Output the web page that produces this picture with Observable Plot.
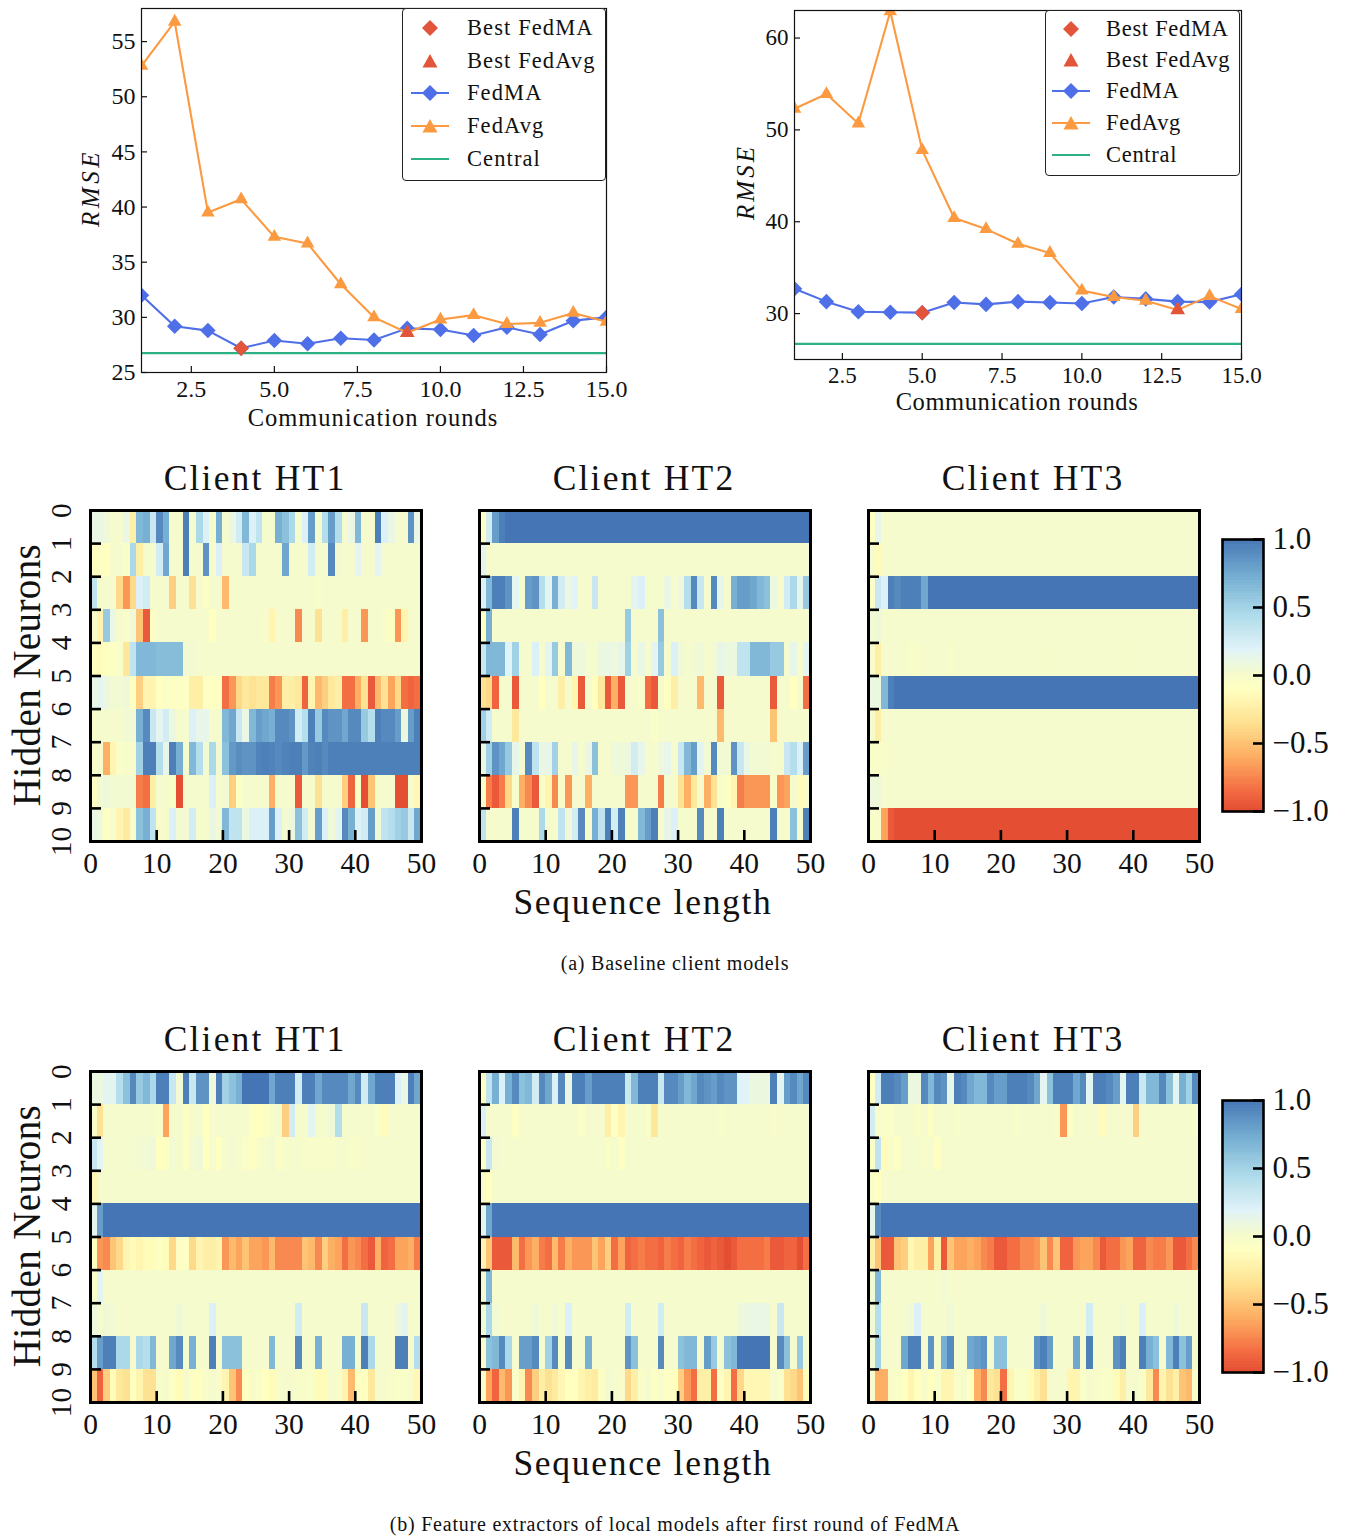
<!DOCTYPE html>
<html><head><meta charset="utf-8">
<script src="https://cdn.jsdelivr.net/npm/d3@7"></script>
<script src="https://cdn.jsdelivr.net/npm/@observablehq/plot@0.6"></script>
<style>
html,body{margin:0;padding:0;background:#fff}
#page{position:relative;width:1354px;height:1536px;overflow:hidden;font-family:"Liberation Serif",serif;color:#111}
#page svg{position:absolute;overflow:visible}
.t{position:absolute;white-space:nowrap;transform:translate(-50%,-50%)}
.r{transform:translate(-50%,-50%) rotate(-90deg)}
.legend{position:absolute;box-sizing:border-box;border:1.3px solid #222;border-radius:4px;background:#fff}
.legend .lab{position:absolute;white-space:nowrap;transform:translateY(-50%);font-size:22.5px}
</style></head><body><div id="page"></div>
<script>
// ---- line chart values
const rounds = [1,2,3,4,5,6,7,8,9,10,11,12,13,14,15];
const fedAvgA = [52.8,56.8,39.5,40.7,37.3,36.7,33,30,28.6,29.8,30.2,29.4,29.5,30.4,29.6];
const fedMaA = [32,29.2,28.8,27.2,27.9,27.6,28.1,27.95,29,28.9,28.35,29.1,28.45,29.7,30];
const centralA = 26.75;
const bestMaA = [4,27.2], bestAvgA = [9,28.6];
const fedAvgB = [52.3,53.9,50.7,62.9,47.8,40.4,39.2,37.6,36.6,32.5,31.8,31.4,30.4,31.9,30.5];
const fedMaB = [32.7,31.3,30.2,30.15,30.1,31.2,31,31.3,31.2,31.1,31.8,31.6,31.3,31.25,32.1];
const centralB = 26.7;
const bestMaB = [5,30.1], bestAvgB = [13,30.4];
const legendLabels = ["Best FedMA","Best FedAvg","FedMA","FedAvg","Central"];
const xTicks = [2.5,5,7.5,10,12.5,15];
const yTicksA = [25,30,35,40,45,50,55];
const yTicksB = [30,40,50,60];
const seqTicks = [0,10,20,30,40,50];
const neuronTicks = [0,1,2,3,4,5,6,7,8,9,10];
const cbTicks = [-1,-0.5,0,0.5,1];

// ---- heat map values (rows = hidden neurons, columns = sequence length)
const baseHT1 = [
[.1,.1,.05,0,0,.1,-.25,.65,.7,.3, .9,.7,0,0,.95,0,.45,.2,0,.7, 0,.1,.25,.65,.2,.35,0,0,.7,.6, .45,0,.2,.8,0,.4,.8,.4,0,.1, .65,0,0,.95,.2,.1,0,0,.85,.1],
[-.1,-.1,-.12,0,0,-.05,.45,-.25,0,0, .25,.75,0,0,.95,0,0,.85,0,.2, 0,0,0,.3,.45,0,0,0,0,.75, 0,0,0,.25,0,0,.9,.02,0,0, .15,0,0,.15,0,0,0,0,0,0],
[.35,0,0,0,-.4,-.7,-.4,.2,.25,0, 0,0,-.45,0,0,-.35,0,-.08,0,0, -.55,0,0,0,0,0,0,0,0,0, 0,0,0,0,-.03,0,0,0,0,0, 0,0,0,0,0,0,0,0,0,0],
[-.02,-.2,.55,.1,0,-.02,.05,-.5,-.95,-.08, 0,0,0,0,0,0,0,0,-.12,0, 0,0,0,0,0,0,-.02,-.2,0,0, 0,-.75,0,0,-.35,0,0,0,-.25,0, 0,-.7,0,0,-.03,-.1,-.7,-.2,0,0],
[-.12,-.15,-.1,-.1,-.05,-.3,.35,.65,.65,.65, .62,.62,.62,.62,.02,.02,0,0,0,0, 0,0,0,0,0,0,0,0,0,0, 0,0,0,0,0,0,0,0,0,0, 0,0,0,0,0,0,0,0,0,0],
[.1,.15,.08,.03,.03,.05,-.1,-.45,-.2,-.2, -.12,-.05,-.1,-.08,-.08,-.25,-.25,-.08,-.12,-.08, -.85,-.7,-.4,-.3,-.35,-.3,-.3,-.8,-.7,-.25, -.25,-.3,-.9,-.2,-.55,-.45,-.3,-.25,-.85,-.85, -.6,-.35,-.95,-.55,-.35,-.65,-.4,-.85,-.9,-.85],
[-.02,0,0,0,0,.03,.03,.7,.9,.3, .15,.25,.08,0,0,.2,.12,.12,0,0, .65,.75,.3,.1,.65,.8,.75,.7,.9,.9, .85,.25,.4,.95,.55,.9,.85,.85,.75,.9, .9,.55,.4,.95,.9,.9,.8,.08,.8,.95],
[-.02,0,-.6,-.2,-.05,-.02,-.02,.5,.95,.95, .4,.12,.95,.7,0,.65,.4,.02,.45,.02, .6,.82,.88,.85,.85,.93,.95,.93,.9,.93, .95,.95,.82,.93,.95,.9,.95,.95,.95,.95, .95,.95,.95,.95,.95,.95,.95,.95,.95,.95],
[-.1,.03,.06,.03,.02,.03,.02,-.8,-.85,-.25, 0,0,-.05,-1,0,0,0,0,.2,0, .02,-.45,-.1,0,0,0,0,-.6,0,0, 0,-.95,0,0,-.35,0,0,0,-.45,-.9, -.05,-1,-.5,0,0,0,-1,-1,0,-.18],
[.1,.05,-.1,-.02,-.2,-.28,-.02,.6,.7,.35, -.02,0,.2,.03,.02,.25,0,0,.1,.03, .65,.35,.35,.08,.2,.2,.2,.8,.2,.02, .08,.6,.25,.03,.8,.2,.05,.15,.9,.7, .2,.25,.8,.05,.35,.4,.5,.55,.3,.75]];
const baseHT2 = [
[-.1,.25,.8,.95,1,1,1,1,1,1, 1,1,1,1,1,1,1,1,1,1, 1,1,1,1,1,1,1,1,1,1, 1,1,1,1,1,1,1,1,1,1, 1,1,1,1,1,1,1,1,1,1],
[.15,0,0,0,0,0,0,0,0,0, 0,0,0,0,0,0,0,0,0,0, 0,0,0,0,0,0,0,0,0,0, 0,0,0,0,0,0,0,0,0,0, 0,0,0,0,0,0,0,0,0,0],
[.2,.65,.95,.95,.85,.15,0,.8,.85,.4, .15,.7,.25,.08,.18,0,0,.3,0,0, 0,0,0,.15,.2,0,0,0,.1,0, .07,.4,.9,.3,0,.9,.12,0,.7,.8, .8,.75,.65,.6,.08,0,.25,.45,.12,.55],
[-.08,.7,0,0,0,0,0,0,0,0, 0,0,0,0,0,0,0,0,0,0, 0,0,.55,0,0,0,0,.6,0,0, 0,0,0,0,0,0,0,0,0,0, 0,0,0,0,0,0,0,0,0,0],
[.3,.65,.65,.65,.18,.5,0,0,.2,0, .15,.55,0,.65,.05,.07,.01,.01,.08,.1, .07,.12,.5,0,.1,0,.15,.55,0,.2, .05,0,.03,.05,0,.03,.12,.08,.08,.35, .35,.65,.65,.65,.55,.55,0,.12,0,.15],
[-.35,-.4,-.9,0,0,-.95,0,0,0,-.12, 0,0,-.25,0,-.2,-.95,0,-.12,-.3,-.95, -.6,-.95,0,0,-.05,-.85,-.95,0,-.12,-.25, 0,0,0,-.55,0,0,-.95,0,0,0, 0,0,0,0,-.95,0,0,-.12,0,-.85],
[.5,.25,0,0,0,-.3,0,0,0,0, 0,0,0,0,0,0,0,0,0,0, 0,0,0,0,0,0,-.05,0,0,0, 0,0,0,0,0,0,-.55,0,0,0, 0,0,0,0,-.5,0,0,0,0,0],
[.1,.5,.85,.75,.55,.12,.02,.9,.35,.09, .12,.5,0,0,.12,0,.1,.6,0,0, .06,.05,.08,.25,.12,0,0,.07,.12,0, .3,.65,.8,.15,.03,.9,.03,.03,.85,.3, .1,.03,.03,.03,0,0,.3,.4,.2,.8],
[-.03,-.8,-.95,-.8,-.4,-.02,-.6,-.75,-.95,-.05, -.2,-.75,-.03,-.7,0,0,-.6,0,0,0, 0,0,-.7,-.7,0,0,0,-.8,0,0, -.35,-.6,-.3,0,-.6,-.35,-.03,-.08,-.2,-.8, -.7,-.7,-.7,-.7,-.02,-.7,-.65,0,-.15,-.02],
[.35,0,0,0,0,.95,0,0,0,.45, 0,0,.35,.05,.25,.9,0,.7,.35,.95, .25,.95,0,0,.65,.8,.95,0,.12,.2, 0,0,0,.9,0,0,.95,0,0,0, 0,0,0,0,.95,0,0,.6,0,.95]];
const baseHT3 = [
[-.1,.12,0,0,0,0,0,0,0,0, 0,0,0,0,0,0,0,0,0,0, 0,0,0,0,0,0,0,0,0,0, 0,0,0,0,0,0,0,0,0,0, 0,0,0,0,0,0,0,0,0,0],
[0,-.15,0,0,0,0,0,0,0,0, 0,0,0,0,0,0,0,0,0,0, 0,0,0,0,0,0,0,0,0,0, 0,0,0,0,0,0,0,0,0,0, 0,0,0,0,0,0,0,0,0,0],
[-.05,.3,.2,.95,.9,.95,.95,.95,.75,1, 1,1,1,1,1,1,1,1,1,1, 1,1,1,1,1,1,1,1,1,1, 1,1,1,1,1,1,1,1,1,1, 1,1,1,1,1,1,1,1,1,1],
[.03,.05,0,0,0,0,0,0,0,0, 0,0,0,0,0,0,0,0,0,0, 0,0,0,0,0,0,0,0,0,0, 0,0,0,0,0,0,0,0,0,0, 0,0,0,0,0,0,0,0,0,0],
[-.02,-.25,0,0,0,0,-.03,-.03,0,0, 0,0,-.03,0,0,0,0,0,0,0, 0,0,0,0,0,0,-.01,0,0,0, 0,0,0,0,0,0,0,0,-.01,-.01, 0,0,0,0,0,0,0,0,0,0],
[.08,.08,.65,.95,1,1,1,1,1,1, 1,1,1,1,1,1,1,1,1,1, 1,1,1,1,1,1,1,1,1,1, 1,1,1,1,1,1,1,1,1,1, 1,1,1,1,1,1,1,1,1,1],
[0,-.25,0,0,0,0,0,0,0,0, 0,0,0,0,0,0,0,0,0,0, 0,0,0,0,0,0,0,0,0,0, 0,0,0,0,0,0,0,0,0,0, 0,0,0,0,0,0,0,0,0,0],
[-.05,-.05,-.03,0,0,0,0,0,0,0, 0,0,0,0,0,0,0,0,0,0, 0,0,0,0,0,0,0,0,0,0, 0,0,0,0,0,0,0,0,0,0, 0,0,0,0,0,0,0,0,0,0],
[.07,.05,0,0,0,0,0,0,0,0, 0,0,0,0,0,0,0,0,0,0, 0,0,0,0,0,0,0,0,0,0, 0,0,0,0,0,0,0,0,0,0, 0,0,0,0,0,0,0,0,0,0],
[-.03,-.03,-.65,-.95,-1,-1,-1,-1,-1,-1, -1,-1,-1,-1,-1,-1,-1,-1,-1,-1, -1,-1,-1,-1,-1,-1,-1,-1,-1,-1, -1,-1,-1,-1,-1,-1,-1,-1,-1,-1, -1,-1,-1,-1,-1,-1,-1,-1,-1,-1]];
const featHT1 = [
[.08,.08,.15,.15,.4,.6,.9,.55,.65,.45, .95,.95,.3,.03,.95,.3,.85,.85,.07,.95, .5,.6,.7,1,1,1,1,.75,.95,.95, .95,.25,.95,.95,.75,.9,.9,.9,.9,.75, .9,.25,.75,.95,.95,.95,.2,.1,.95,.75],
[-.03,-.35,0,0,0,0,0,0,0,0, -.03,-.65,0,0,-.1,0,0,-.12,0,0, 0,0,0,0,-.08,-.12,-.1,-.02,-.01,-.45, .25,0,0,.15,0,0,.05,.4,0,0, 0,0,0,-.05,-.15,0,0,0,0,0],
[.3,.15,0,0,0,0,.01,.02,.03,.05, -.12,-.08,.03,-.01,-.08,.02,.04,-.12,0,-.12, 0,.02,0,-.06,-.08,-.04,0,.02,-.06,-.02, 0,0,-.04,-.02,-.02,-.04,-.04,0,0,-.03, -.04,0,0,0,0,0,0,0,0,0],
[-.18,0,0,0,0,0,0,0,0,0, 0,0,0,0,0,0,0,0,0,0, 0,0,0,0,0,0,0,0,0,0, 0,0,0,0,0,0,0,0,0,0, 0,0,0,0,0,0,0,0,0,0],
[.15,.8,1,1,1,1,1,1,1,1, 1,1,1,1,1,1,1,1,1,1, 1,1,1,1,1,1,1,1,1,1, 1,1,1,1,1,1,1,1,1,1, 1,1,1,1,1,1,1,1,1,1],
[-.1,-.7,-.75,-.5,-.4,-.2,-.15,-.2,-.15,-.15, -.1,-.15,-.4,-.08,-.08,-.4,-.2,-.25,-.25,-.2, -.7,-.55,-.65,-.5,-.65,-.65,-.7,-.55,-.75,-.75, -.75,-.75,-.5,-.55,-.75,-.45,-.6,-.65,-.85,-.7, -.75,-.85,-.95,-.6,-.9,-.85,-.65,-.65,-.6,-.8],
[-.05,.15,0,0,0,0,0,0,0,0, 0,0,0,0,0,0,0,0,0,0, 0,0,0,0,0,0,0,0,0,0, 0,0,0,0,0,0,0,0,0,0, 0,0,0,0,0,0,0,0,0,0],
[.07,.01,.04,.03,0,0,0,0,0,0, 0,0,0,.04,0,0,0,0,.2,0, 0,0,0,0,0,0,0,0,0,0, 0,.25,0,0,0,0,0,0,0,0, 0,.3,0,0,0,0,.08,.15,0,0],
[.4,.8,.95,.95,.45,.45,0,.45,.4,.65, 0,0,.75,.9,0,.7,0,0,.95,0, .6,.6,.6,0,0,0,0,.65,0,0, 0,.9,0,0,.7,0,0,0,.7,.7, 0,.95,.45,0,0,0,.95,.95,0,.4],
[-.5,-.9,-.45,-.15,-.3,-.35,-.12,-.2,-.35,-.35, -.03,0,-.1,-.15,0,-.1,-.1,-.02,0,-.02, -.2,-.5,-.75,-.12,-.03,-.05,-.12,-.15,-.02,0, 0,-.03,-.03,-.05,-.15,-.15,0,-.03,-.2,-.55, -.1,-.12,-.3,0,0,-.03,-.05,-.05,-.02,-.18]];
const featHT2 = [
[-.08,.35,.7,.2,.7,.9,.6,.65,.25,.9, .75,.2,.9,.1,.95,.95,.8,.95,.95,.95, .95,.95,.3,.65,.95,.95,.95,.3,.9,.9, .8,.65,.75,.9,.85,.8,.9,.85,.85,.18, .18,.08,.08,.08,.95,.15,.8,.9,.75,.9],
[.2,0,0,0,0,-.1,0,0,0,0, 0,0,0,0,0,-.05,0,0,0,-.25, -.08,-.2,0,0,0,-.05,-.3,0,0,0, 0,0,0,0,0,0,-.04,0,0,0, 0,0,0,0,-.02,0,0,0,0,0],
[-.08,.3,.02,0,0,0,0,0,0,0, 0,0,0,0,0,0,0,0,0,-.06, .01,-.08,0,0,0,0,0,0,0,0, 0,0,0,0,0,0,0,0,0,0, 0,0,0,0,0,0,0,0,0,0],
[-.02,-.12,0,0,0,0,0,0,0,0, 0,0,0,0,0,0,0,0,0,0, 0,0,0,0,0,0,0,0,0,0, 0,0,0,0,0,0,0,0,0,0, 0,0,0,0,0,0,0,0,0,0],
[.15,.75,1,1,1,1,1,1,1,1, 1,1,1,1,1,1,1,1,1,1, 1,1,1,1,1,1,1,1,1,1, 1,1,1,1,1,1,1,1,1,1, 1,1,1,1,1,1,1,1,1,1],
[-.2,-.5,-.95,-.95,-.95,-.55,-.85,-.7,-.6,-.8, -.85,-.55,-.8,-.6,-.7,-.7,-.7,-.5,-.65,-.45, -.85,-.65,-.9,-.85,-.8,-.85,-.85,-.9,-.8,-.85, -.9,-.8,-.85,-.9,-.95,-.9,-.95,-1,-.95,-.85, -.85,-.85,-.85,-.8,-.95,-.95,-.9,-.9,-1,-.85],
[.03,.65,0,0,0,0,0,0,0,0, 0,0,0,0,0,0,0,0,0,0, 0,0,0,0,0,0,0,0,0,0, 0,0,0,0,0,0,0,0,0,0, 0,0,0,0,0,0,0,0,0,0],
[.03,.45,.03,0,0,0,0,0,.04,0, 0,.04,0,.2,0,0,0,0,0,0, 0,0,.25,0,0,0,0,.25,0,0, 0,0,0,0,0,0,0,0,0,.06, .08,.1,.1,.1,0,.3,0,0,0,0],
[-.02,.6,.65,.9,.45,0,.8,.8,.9,0, .5,.9,0,.9,0,0,.7,0,0,0, 0,0,.85,.6,0,0,0,.9,0,0, .6,.65,.65,0,.8,.55,0,.6,.65,1, 1,1,1,1,0,.9,.6,0,.55,0],
[-.03,-.65,-.9,-.55,-.7,-.05,-.2,-.75,-.45,-.25, -.35,-.28,-.18,-.12,-.12,-.2,-.25,-.28,-.07,.02, 0,-.02,-.4,-.25,-.05,0,-.08,-.02,-.08,-.12, -.45,-.7,-.85,-.25,-.25,-.85,-.08,-.2,-.85,-.4, -.18,-.18,-.18,-.18,0,-.05,-.35,-.4,-.5,-.15]];
const featHT3 = [
[-.08,.25,.95,.95,.9,.8,.08,.08,.9,.65, .9,.85,.12,.95,.9,.75,.65,.65,.9,.8, .8,.95,.95,.95,.9,.75,.15,.6,.95,.95, .95,.75,.9,.15,.95,.95,.9,.8,.15,.95, .95,.3,.65,.65,.9,.6,.15,.7,.5,.9],
[.25,-.02,-.05,-.05,0,0,0,-.03,0,-.1, 0,0,0,-.04,0,0,0,0,0,0, 0,0,-.03,0,0,0,0,0,-.03,-.7, -.08,0,0,0,0,-.15,0,0,0,0, -.45,0,0,0,0,0,0,0,0,-.02],
[-.05,.35,-.15,-.03,-.08,0,.01,0,-.03,0, -.1,0,0,0,0,0,0,0,0,0, 0,0,0,0,0,0,0,0,0,0, 0,0,0,0,0,0,0,0,0,0, 0,0,0,0,0,0,0,0,0,0],
[-.05,-.12,0,0,0,0,0,0,0,0, 0,0,0,0,0,0,0,0,0,0, 0,0,0,0,0,0,0,0,0,0, 0,0,0,0,0,0,0,0,0,0, 0,0,0,0,0,0,0,0,0,0],
[.12,.9,1,1,1,1,1,1,1,1, 1,1,1,1,1,1,1,1,1,1, 1,1,1,1,1,1,1,1,1,1, 1,1,1,1,1,1,1,1,1,1, 1,1,1,1,1,1,1,1,1,1],
[-.25,-.5,-.95,-.95,-.5,-.45,-.18,-.25,-.25,-.65, -.25,-.95,-.5,-.65,-.65,-.6,-.65,-.75,-.8,-.95, -.95,-.85,-.85,-.75,-.75,-.7,-.5,-.75,-.5,-.9, -.9,-.7,-.65,-.65,-.75,-.95,-.85,-.85,-.7,-.65, -.9,-.9,-.75,-.8,-.8,-.7,-.95,-.95,-.85,-.75],
[.03,.65,0,0,0,0,0,0,0,0, 0,.03,0,0,0,0,0,0,0,0, 0,0,0,0,0,0,0,0,0,0, 0,0,0,0,0,0,0,0,0,0, 0,0,0,0,0,0,0,0,0,0],
[.03,.4,0,0,0,0,.05,.2,0,0, 0,0,.04,0,0,0,0,0,0,0, 0,0,0,0,0,0,.05,0,0,0, 0,0,0,.25,0,0,0,0,.03,0, 0,.2,0,0,0,0,.06,0,0,0],
[.03,.5,0,0,0,.75,.95,.95,0,.85, 0,.7,.9,0,0,.75,.8,.85,0,.6, .6,0,0,0,0,.85,.95,.8,0,0, 0,.75,0,.95,0,0,0,.85,.95,0, 0,.95,.7,.6,0,.65,.95,.6,.8,0],
[-.02,-.6,-.6,-.03,-.05,-.12,-.2,-.12,-.02,-.12, -.05,-.2,-.2,-.05,0,-.12,-.6,-.75,-.3,-.35, -.85,-.2,-.05,-.05,-.15,-.25,-.35,0,0,0, -.2,-.2,-.05,0,-.03,-.05,-.05,-.15,-.25,0, 0,-.05,-.3,-.75,-.2,-.35,-.25,-.5,-.55,-.02]];

// ---- colour scale
const cmapDomain = [-1,-.855,-.61,-.365,-.12,0,.18,.45,.72,1];
const cmapRange = ["#e44f33","#f46d43","#fdae61","#fee090","#ffffbf","#f5fbcc","#e0f3f8","#abd9e9","#74add1","#4575b4"];
const colorScale = {type:"linear",domain:cmapDomain,range:cmapRange,clamp:true};
const cbLevels = d3.range(-1,1,0.02);

const SERIF = '"Liberation Serif",serif';
const page = document.getElementById("page");
const fmtMinus = d => d.toFixed(1).replace("-","\u2212");
function place(svg,left,top){
  const el = svg.tagName.toLowerCase()==="svg" ? svg : svg.querySelector("svg");
  el.style.left=left+"px"; el.style.top=top+"px";
  el.style.background="transparent";
  page.appendChild(el);
}
function text(s,x,y,size,extra={}){
  const d=document.createElement("div");
  d.className="t"+(extra.rot?" r":"");
  d.textContent=s; d.style.left=x+"px"; d.style.top=y+"px"; d.style.fontSize=size+"px";
  if(extra.italic) d.style.fontStyle="italic";
  if(extra.spacing) d.style.letterSpacing=extra.spacing+"px";
  page.appendChild(d);
}

// ---- line panels
const BLUE="#4f6fe8", ORANGE="#fb9a40", GREEN="#2eb085", RED="#e2553a";
function lineChart({left,top,w,h,domainY,ticksY,avg,ma,central,bestMa,bestAvg,tickFont}){
  const mL=45,mR=30,mT=5,mB=32;
  const rows=rounds.map((r,i)=>({r,avg:avg[i],ma:ma[i]}));
  const p=Plot.plot({width:w+mL+mR,height:h+mT+mB,marginLeft:mL,marginRight:mR,marginTop:mT,marginBottom:mB,
    style:{fontFamily:SERIF,color:"#111",background:"transparent",overflow:"visible"},
    x:{domain:[1,15]},y:{domain:domainY},
    marks:[
      Plot.ruleY([central],{stroke:GREEN,strokeWidth:2.2}),
      Plot.line(rows,{x:"r",y:"ma",stroke:BLUE,strokeWidth:2.1,clip:true}),
      Plot.dot(rows,{x:"r",y:"ma",fill:BLUE,symbol:"diamond2",r:7,clip:true}),
      Plot.line(rows,{x:"r",y:"avg",stroke:ORANGE,strokeWidth:2.1,clip:true}),
      Plot.dot(rows,{x:"r",y:"avg",fill:ORANGE,symbol:"triangle2",r:6.5,clip:true}),
      Plot.dot([bestMa],{x:d=>d[0],y:d=>d[1],fill:RED,symbol:"diamond2",r:7}),
      Plot.dot([bestAvg],{x:d=>d[0],y:d=>d[1],fill:RED,symbol:"triangle2",r:7}),
      Plot.axisX({ticks:xTicks,tickFormat:d=>d.toFixed(1),tickSize:-6,tickPadding:13,fontSize:tickFont,label:null,strokeWidth:1.2}),
      Plot.axisY({ticks:ticksY,tickFormat:d=>String(d),tickSize:-6,tickPadding:12,fontSize:tickFont,label:null,strokeWidth:1.2}),
      Plot.frame({stroke:"#111",strokeWidth:1.2})
    ]});
  place(p,left-mL,top-mT);
}
function legend({left,top,w,h,textX,cx,rows,spacing}){
  const box=document.createElement("div"); box.className="legend";
  box.style.cssText=`left:${left}px;top:${top}px;width:${w}px;height:${h}px`;
  const ns="http://www.w3.org/2000/svg";
  const svg=document.createElementNS(ns,"svg");
  svg.setAttribute("width",w);svg.setAttribute("height",h);svg.style.left="-1px";svg.style.top="-1px";
  const add=(tag,attrs)=>{const e=document.createElementNS(ns,tag);for(const k in attrs)e.setAttribute(k,attrs[k]);svg.appendChild(e)};
  const dia=(x,y,c)=>add("path",{d:`M${x-8} ${y}L${x} ${y-8}L${x+8} ${y}L${x} ${y+8}Z`,fill:c});
  const tri=(x,y,c)=>add("path",{d:`M${x-7.5} ${y+6.5}L${x} ${y-7}L${x+7.5} ${y+6.5}Z`,fill:c});
  const c=cx-left;
  const hl=(y,col)=>add("line",{x1:c-19,x2:c+19,y1:y,y2:y,stroke:col,"stroke-width":2.2});
  rows.forEach((y,i)=>{
    const ry=y-top;
    if(i===0)dia(c,ry,RED);
    if(i===1)tri(c,ry,RED);
    if(i===2){hl(ry,BLUE);dia(c,ry,BLUE)}
    if(i===3){hl(ry,ORANGE);tri(c,ry,ORANGE)}
    if(i===4)hl(ry,GREEN);
    const l=document.createElement("div");l.className="lab";l.textContent=legendLabels[i];
    l.style.left=(textX-left-1)+"px";l.style.top=(ry-1)+"px";l.style.letterSpacing=spacing+"px";box.appendChild(l);
  });
  box.appendChild(svg);
  page.appendChild(box);
}

lineChart({left:141,top:8,w:465,h:364,domainY:[25,58],ticksY:yTicksA,avg:fedAvgA,ma:fedMaA,central:centralA,bestMa:bestMaA,bestAvg:bestAvgA,tickFont:24});
lineChart({left:794,top:10,w:447,h:349,domainY:[25,63],ticksY:yTicksB,avg:fedAvgB,ma:fedMaB,central:centralB,bestMa:bestMaB,bestAvg:bestAvgB,tickFont:23});
legend({left:402,top:8,w:204,h:173,textX:467,cx:430,rows:[28,61,93,126,159],spacing:1.1});
legend({left:1045,top:10,w:195,h:166,textX:1106,cx:1071,rows:[29,60,91,123,155],spacing:.7});
text("Communication rounds",373,418,24.5,{spacing:1});
text("Communication rounds",1017,402,24.5,{spacing:.6});
text("RMSE",91,188,25,{rot:true,italic:true,spacing:3.5});
text("RMSE",746,182,25,{rot:true,italic:true,spacing:3});

// ---- heat map panels
function heat(matrix,left,top,showY){
  const mL=40,mR=20,mT=15,mB=40,S=331;
  const cells=matrix.flatMap((row,j)=>{
    if(row.length!==50) throw new Error("row length "+row.length+" row "+j);
    return row.map((v,i)=>({x1:i,x2:i+1,y1:j,y2:j+1,v}));
  });
  const p=Plot.plot({width:S+mL+mR,height:S+mT+mB,marginLeft:mL,marginRight:mR,marginTop:mT,marginBottom:mB,
    style:{fontFamily:SERIF,color:"#111",background:"transparent",overflow:"visible"},
    x:{domain:[0,50]},y:{domain:[10,0]},color:colorScale,
    marks:[
      Plot.rect(cells,{x1:"x1",x2:"x2",y1:"y1",y2:"y2",fill:"v",shapeRendering:"crispEdges"}),
      Plot.axisX({ticks:seqTicks,tickFormat:d=>String(d),tickSize:-11,tickPadding:22,fontSize:29.5,label:null,strokeWidth:2.6,stroke:"#000"}),
      Plot.axisY({ticks:neuronTicks,tickFormat:showY?(d=>String(d)):(()=>""),tickSize:-11,tickPadding:31,tickRotate:-90,textAnchor:"middle",fontSize:29.5,label:null,strokeWidth:2.6,stroke:"#000"}),
      Plot.frame({stroke:"#000",strokeWidth:3})
    ]});
  place(p,left-mL,top-mT);
}
function colorbar(top){
  const mL=5,mR=80,mT=10,mB=10,W=41,H=272;
  const rows=cbLevels.map(v=>({v,v2:v+0.02}));
  const p=Plot.plot({width:W+mL+mR,height:H+mT+mB,marginLeft:mL,marginRight:mR,marginTop:mT,marginBottom:mB,
    style:{fontFamily:SERIF,color:"#111",background:"transparent",overflow:"visible"},
    x:{domain:[0,1],axis:null},y:{domain:[-1,1]},color:colorScale,
    marks:[
      Plot.rect(rows,{x1:0,x2:1,y1:"v",y2:"v2",fill:"v",shapeRendering:"crispEdges"}),
      Plot.axisY({anchor:"right",ticks:cbTicks,tickFormat:fmtMinus,tickSize:-11,tickPadding:20,fontSize:31,label:null,strokeWidth:2.6,stroke:"#000"}),
      Plot.frame({stroke:"#000",strokeWidth:2.6})
    ]});
  place(p,1222-mL,top-mT);
}
const titles=["Client HT1","Client HT2","Client HT3"];
const panelX=[90,479,868];
function group(matrices,top,caption){
  matrices.forEach((m,i)=>{
    heat(m,panelX[i],top,i===0);
    text(titles[i],panelX[i]+165,top-32,35.5,{spacing:2.2});
  });
  colorbar(top+29);
  text("Hidden Neurons",26,top+165,39,{rot:true,spacing:.4});
  text("Sequence length",643,top+392,35.5,{spacing:1.7});
  text(caption,675,top+453,20,{spacing:.78});
}
group([baseHT1,baseHT2,baseHT3],510,"(a) Baseline client models");
group([featHT1,featHT2,featHT3],1071,"(b) Feature extractors of local models after first round of FedMA");
</script></body></html>
